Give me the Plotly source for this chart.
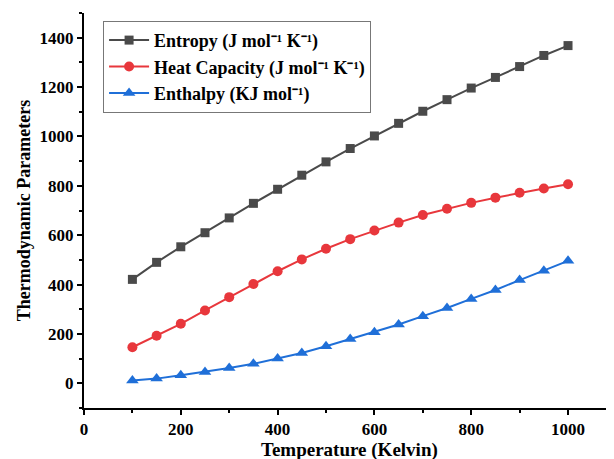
import plotly.graph_objects as go

temperature = [100, 150, 200, 250, 300, 350, 400, 450, 500, 550, 600, 650, 700, 750, 800, 850, 900, 950, 1000]
entropy = [421, 490, 553, 610, 670, 729, 786, 843, 897, 951, 1002, 1053, 1102, 1149, 1196, 1239, 1283, 1328, 1368]
heat_capacity = [146, 193, 241, 295, 349, 402, 454, 502, 545, 584, 619, 651, 682, 707, 731, 752, 772, 789, 806]
enthalpy = [11, 19, 33, 46, 62, 79, 101, 123, 150, 179, 207, 238, 272, 305, 342, 378, 418, 456, 496]

names = ["Entropy (J mol\u207b\u00b9 K\u207b\u00b9)",
         "Heat Capacity (J mol\u207b\u00b9 K\u207b\u00b9)",
         "Enthalpy (KJ mol\u207b\u00b9)"]
x_title = "Temperature (Kelvin)"
y_title = "Thermodynamic Parameters"

fig = go.Figure()
fig.add_trace(go.Scatter(x=temperature, y=entropy, mode="lines+markers", name=names[0],
                         line=dict(color="#4a4a4a", width=2),
                         marker=dict(symbol="square", size=9, color="#4a4a4a")))
fig.add_trace(go.Scatter(x=temperature, y=heat_capacity, mode="lines+markers", name=names[1],
                         line=dict(color="#e8373c", width=2),
                         marker=dict(symbol="circle", size=10, color="#e8373c")))
fig.add_trace(go.Scatter(x=temperature, y=enthalpy, mode="lines+markers", name=names[2],
                         line=dict(color="#1f6fd8", width=2),
                         marker=dict(symbol="triangle-up", size=11, color="#1f6fd8")))

font_main = "Liberation Serif, Times New Roman, serif"
# page body has an 8px default margin, so the figure is sized to fit the window
fig.update_layout(
    width=606, height=451,
    margin=dict(l=76, r=0, t=5, b=51),
    paper_bgcolor="white", plot_bgcolor="white",
    font=dict(family=font_main, color="black", size=17),
    showlegend=True,
    legend=dict(x=0.036, y=0.98, xanchor="left", yanchor="top",
                bordercolor="#777777", borderwidth=1, bgcolor="white",
                font=dict(family=font_main, size=18, color="black", weight="bold"),
                tracegroupgap=0, itemwidth=40),
    xaxis=dict(range=[0, 1095], showgrid=False, zeroline=False, automargin=False,
               showline=True, linecolor="black", linewidth=2,
               ticks="outside", ticklen=5, tickwidth=2, tickcolor="black",
               tick0=0, dtick=200,
               tickfont=dict(family=font_main, size=17, weight="bold"),
               minor=dict(ticks="outside", ticklen=3, tickwidth=2, tickcolor="black", dtick=100, tick0=0)),
    yaxis=dict(range=[-100, 1500], showgrid=False, zeroline=False, automargin=False,
               showline=True, linecolor="black", linewidth=2,
               ticks="outside", ticklen=5, tickwidth=2, tickcolor="black",
               tick0=0, dtick=200,
               tickfont=dict(family=font_main, size=17, weight="bold"),
               minor=dict(ticks="outside", ticklen=3, tickwidth=2, tickcolor="black", dtick=100, tick0=0),
               title=dict(text=y_title, standoff=4,
                          font=dict(family=font_main, size=18, weight="bold"))),
    annotations=[dict(text=x_title, xref="paper", yref="paper", x=0.5, y=-0.107,
                      xanchor="center", yanchor="middle", showarrow=False,
                      font=dict(family=font_main, size=19, weight="bold", color="black"))],
)

fig.write_html("out.html")
